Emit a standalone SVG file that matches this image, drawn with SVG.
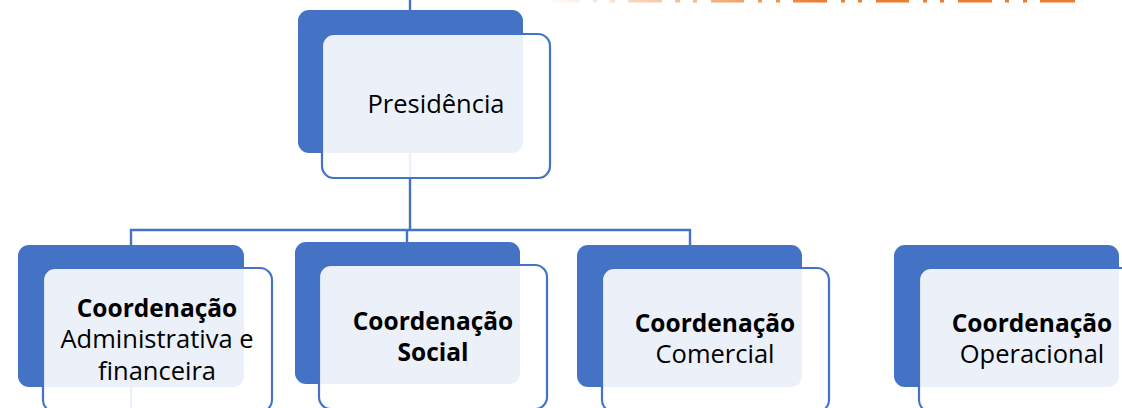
<svg xmlns="http://www.w3.org/2000/svg" width="1122" height="408" viewBox="0 0 1122 408">
  <defs>
    <linearGradient id="og" gradientUnits="userSpaceOnUse" x1="545" y1="0" x2="820" y2="0">
      <stop offset="0" stop-color="#ED7D31" stop-opacity="0"/>
      <stop offset="1" stop-color="#ED7D31" stop-opacity="1"/>
    </linearGradient>
    <style>
      .back { fill: #4472C4; }
      .front { fill: #FFFFFF; fill-opacity: 0.9; stroke: #4472C4; stroke-width: 2.2; }
      .conn { stroke: #4472C4; stroke-width: 2.4; fill: none; }
      .t { font-family: "Open Sans", "Noto Sans", "Liberation Sans", sans-serif; font-size: 25.5px; fill: #000; text-anchor: middle; }
      .b { font-weight: bold; font-size: 24.5px; }
    </style>
  </defs>
  <rect width="1122" height="408" fill="#FFFFFF"/>
  <g id="orange-top" fill="url(#og)">
    <rect x="545" y="0" width="35" height="2.5"/>
    <rect x="593" y="0" width="4" height="2.5"/>
    <rect x="610" y="0" width="5" height="2.5"/>
    <rect x="628" y="0" width="34" height="2.5"/>
    <rect x="675" y="0" width="5" height="2.5"/>
    <rect x="693" y="0" width="4" height="2.5"/>
    <rect x="711" y="0" width="33" height="2.5"/>
    <rect x="758" y="0" width="4" height="2.5"/>
    <rect x="776" y="0" width="4" height="2.5"/>
    <rect x="793" y="0" width="34" height="2.5"/>
    <rect x="841" y="0" width="4" height="2.5"/>
    <rect x="858" y="0" width="4" height="2.5"/>
    <rect x="876" y="0" width="33" height="2.5"/>
    <rect x="923" y="0" width="4" height="2.5"/>
    <rect x="940" y="0" width="4" height="2.5"/>
    <rect x="958" y="0" width="34" height="2.5"/>
    <rect x="1005" y="0" width="4" height="2.5"/>
    <rect x="1023" y="0" width="4" height="2.5"/>
    <rect x="1040" y="0" width="35" height="2.5"/>
  </g>
  <g id="connectors" class="conn">
    <line x1="410" y1="0" x2="410" y2="230"/>
    <polyline points="131,408 131,230 690,230 690,246"/>
    <line x1="407" y1="230" x2="407" y2="243"/>
  </g>
  <g id="presidencia">
    <rect class="back" x="298" y="10" width="225" height="143" rx="11"/>
    <rect class="front" x="322" y="34" width="228" height="144" rx="12"/>
    <text class="t" x="436" y="113">Presidência</text>
  </g>
  <g id="coord-adm">
    <rect class="back" x="18" y="245" width="226" height="142" rx="11"/>
    <rect class="front" x="43" y="268" width="229" height="144" rx="12"/>
    <text class="t b" x="157" y="317">Coordenação</text>
    <text class="t" x="157" y="348">Administrativa e</text>
    <text class="t" x="157" y="380">financeira</text>
  </g>
  <g id="coord-social">
    <rect class="back" x="295" y="242" width="225" height="142" rx="11"/>
    <rect class="front" x="319" y="265" width="228" height="144" rx="12"/>
    <text class="t b" x="433" y="330">Coordenação</text>
    <text class="t b" x="433" y="361">Social</text>
  </g>
  <g id="coord-comercial">
    <rect class="back" x="577" y="245" width="225" height="142" rx="11"/>
    <rect class="front" x="602" y="268" width="227" height="144" rx="12"/>
    <text class="t b" x="715" y="332">Coordenação</text>
    <text class="t" x="715" y="363">Comercial</text>
  </g>
  <g id="coord-operacional">
    <rect class="back" x="894" y="245" width="225" height="142" rx="11"/>
    <rect class="front" x="919" y="268" width="228" height="144" rx="12"/>
    <text class="t b" x="1032" y="332">Coordenação</text>
    <text class="t" x="1032" y="363">Operacional</text>
  </g>
</svg>
